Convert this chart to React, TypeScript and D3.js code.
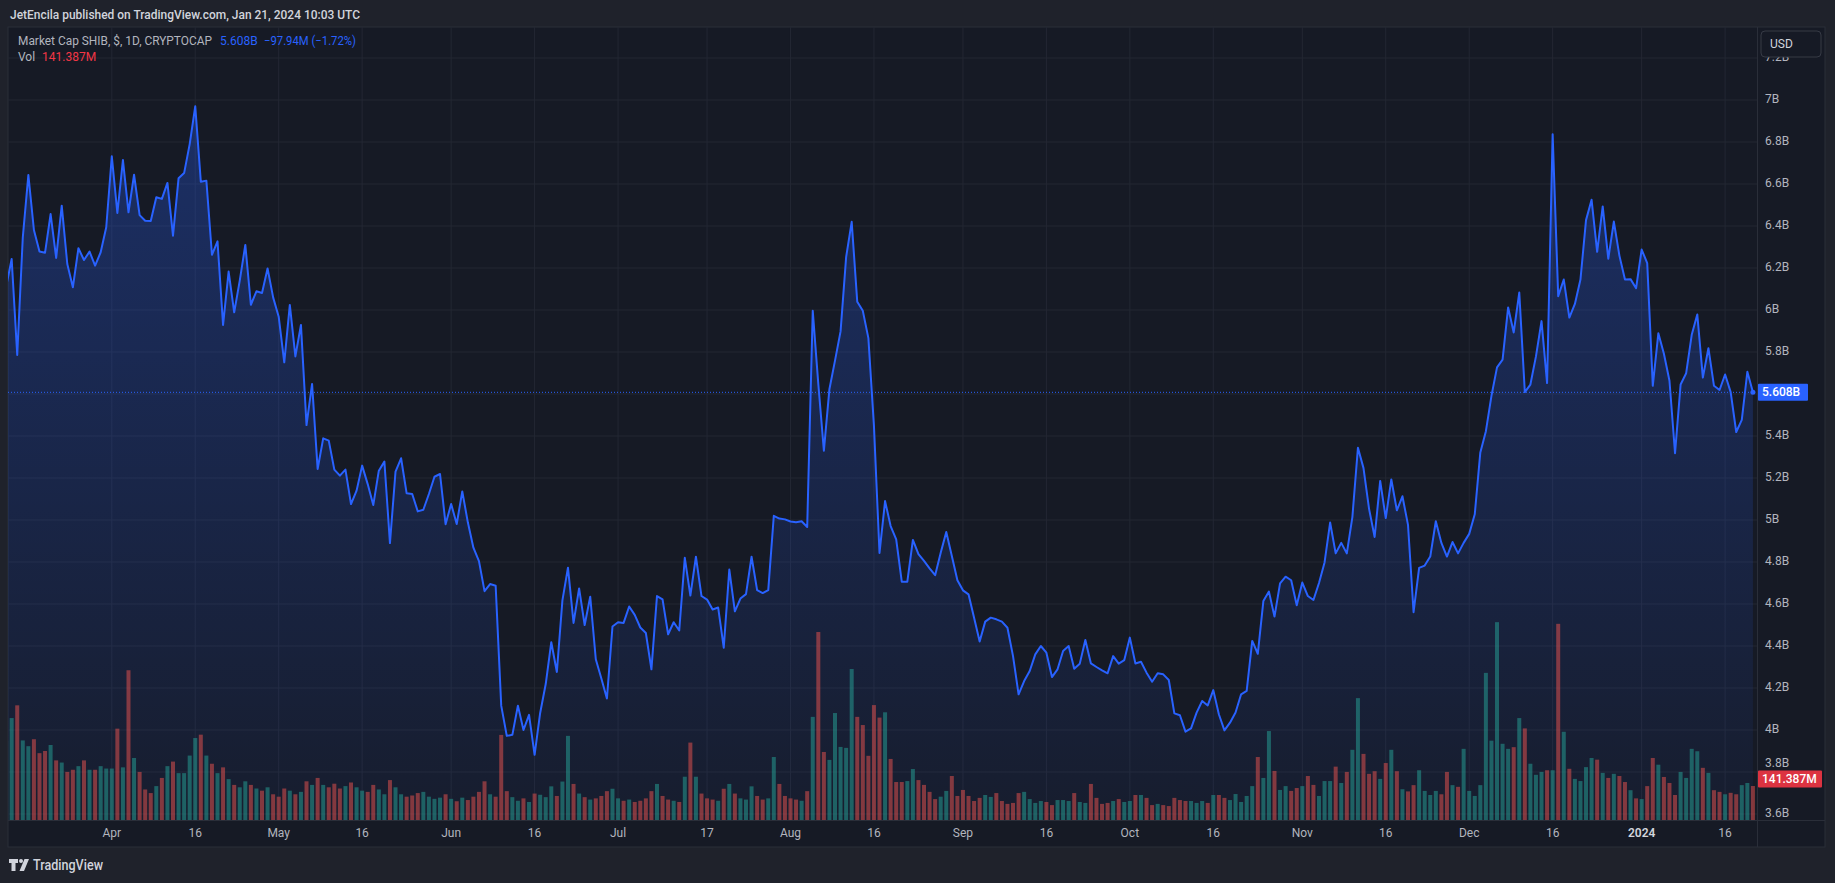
import React from 'react';
import { area, line, scaleLinear, scaleUtc } from 'd3';

// SHIB market cap, daily close in billions USD (Mar 13 2023 .. Jan 21 2024)
const capMar = [6.11, 6.243, 5.786, 6.346, 6.643, 6.381, 6.279, 6.273, 6.457, 6.248, 6.497, 6.219, 6.108, 6.294, 6.238, 6.278, 6.211, 6.275, 6.394];
const capApr = [6.732, 6.462, 6.714, 6.465, 6.644, 6.452, 6.425, 6.424, 6.537, 6.529, 6.605, 6.354, 6.627, 6.652, 6.79, 6.97, 6.611, 6.616, 6.263, 6.327, 5.929, 6.183, 5.989, 6.14, 6.31, 6.025, 6.089, 6.081, 6.198, 6.06];
const capMay = [5.968, 5.751, 6.024, 5.779, 5.929, 5.452, 5.648, 5.243, 5.389, 5.378, 5.24, 5.211, 5.24, 5.076, 5.14, 5.259, 5.171, 5.071, 5.235, 5.278, 4.89, 5.23, 5.294, 5.127, 5.124, 5.041, 5.049, 5.124, 5.206, 5.219, 4.98];
const capJun = [5.076, 4.981, 5.136, 4.989, 4.868, 4.804, 4.661, 4.695, 4.687, 4.116, 3.972, 3.977, 4.116, 4.0, 4.072, 3.882, 4.081, 4.219, 4.418, 4.276, 4.617, 4.773, 4.51, 4.674, 4.5, 4.635, 4.337, 4.245, 4.15, 4.493];
const capJul = [4.513, 4.51, 4.588, 4.548, 4.488, 4.462, 4.289, 4.638, 4.622, 4.456, 4.513, 4.474, 4.82, 4.64, 4.825, 4.638, 4.621, 4.574, 4.583, 4.392, 4.764, 4.565, 4.626, 4.647, 4.825, 4.666, 4.652, 4.666, 5.02, 5.007, 5.003];
const capAug = [4.993, 4.989, 4.994, 4.967, 5.996, 5.647, 5.33, 5.624, 5.759, 5.898, 6.252, 6.42, 6.039, 5.996, 5.866, 5.448, 4.843, 5.09, 4.971, 4.908, 4.706, 4.706, 4.905, 4.837, 4.805, 4.77, 4.737, 4.844, 4.943, 4.829, 4.713];
const capSep = [4.665, 4.646, 4.535, 4.421, 4.516, 4.535, 4.527, 4.516, 4.487, 4.352, 4.17, 4.233, 4.281, 4.36, 4.4, 4.368, 4.252, 4.289, 4.376, 4.4, 4.292, 4.316, 4.429, 4.317, 4.3, 4.284, 4.27, 4.352, 4.316, 4.333];
const capOct = [4.44, 4.317, 4.325, 4.273, 4.23, 4.27, 4.265, 4.238, 4.079, 4.07, 3.992, 4.008, 4.083, 4.138, 4.117, 4.19, 4.075, 3.998, 4.035, 4.083, 4.17, 4.186, 4.424, 4.363, 4.614, 4.659, 4.54, 4.698, 4.73, 4.713, 4.594];
const capNov = [4.702, 4.638, 4.619, 4.7, 4.798, 4.988, 4.841, 4.891, 4.841, 5.014, 5.344, 5.247, 5.053, 4.919, 5.186, 5.009, 5.193, 5.046, 5.113, 4.977, 4.561, 4.772, 4.783, 4.826, 4.994, 4.891, 4.826, 4.895, 4.841, 4.891];
const capDec = [4.934, 5.027, 5.322, 5.423, 5.591, 5.727, 5.764, 6.012, 5.893, 6.083, 5.609, 5.645, 5.779, 5.947, 5.652, 6.837, 6.066, 6.145, 5.964, 6.029, 6.145, 6.428, 6.525, 6.277, 6.493, 6.244, 6.421, 6.259, 6.145, 6.147, 6.104];
const capJan = [6.288, 6.223, 5.639, 5.889, 5.792, 5.663, 5.318, 5.645, 5.699, 5.882, 5.979, 5.678, 5.818, 5.639, 5.619, 5.693, 5.609, 5.419, 5.477, 5.706, 5.608];

// daily volume in millions USD, same days
const volMar = [330, 424, 477, 331, 307, 336, 278, 287, 312, 248, 239, 200, 209, 224, 248, 209, 209, 224, 214];
const volApr = [214, 380, 219, 623, 258, 200, 127, 112, 141, 175, 224, 243, 195, 195, 268, 341, 355, 268, 234, 195, 219, 170, 146, 136, 161, 146, 131, 122, 136, 107];
const volMay = [97, 131, 122, 107, 117, 161, 146, 175, 146, 136, 151, 131, 141, 156, 136, 122, 117, 146, 127, 107, 166, 136, 107, 97, 102, 112, 117, 97, 88, 93, 107];
const volJun = [88, 78, 93, 83, 97, 117, 161, 107, 97, 354, 120, 95, 80, 90, 75, 110, 105, 95, 140, 100, 160, 350, 150, 110, 95, 85, 90, 100, 120, 130];
const volJul = [90, 80, 85, 75, 80, 90, 120, 150, 100, 85, 80, 75, 180, 322, 180, 110, 90, 85, 80, 130, 150, 110, 90, 85, 140, 100, 85, 90, 262, 150, 100];
const volAug = [90, 85, 80, 120, 429, 782, 283, 250, 445, 304, 300, 628, 429, 395, 267, 478, 426, 448, 254, 158, 158, 162, 212, 166, 146, 117, 87, 97, 121, 183, 100];
const volSep = [125, 100, 79, 92, 104, 96, 112, 79, 67, 71, 112, 117, 87, 71, 79, 75, 62, 83, 83, 79, 112, 75, 71, 150, 92, 67, 71, 79, 87, 75];
const volOct = [79, 104, 104, 92, 62, 67, 62, 58, 92, 83, 79, 79, 71, 79, 71, 104, 104, 92, 83, 108, 75, 100, 141, 262, 175, 370, 204, 125, 141, 121, 133];
const volNov = [141, 183, 146, 100, 162, 162, 222, 154, 200, 292, 507, 275, 192, 203, 171, 237, 292, 203, 128, 119, 145, 207, 121, 104, 121, 107, 200, 145, 138, 296];
const volDec = [121, 100, 145, 612, 330, 823, 317, 296, 303, 424, 381, 234, 188, 200, 207, 207, 816, 367, 213, 171, 162, 220, 258, 251, 196, 175, 192, 183, 158, 124, 90];
const volJan = [87, 141, 258, 230, 179, 154, 104, 200, 175, 296, 286, 217, 196, 124, 117, 107, 113, 107, 145, 154, 141.387];

const priceTicks = [3.6, 3.8, 4, 4.2, 4.4, 4.6, 4.8, 5, 5.2, 5.4, 5.6, 5.8, 6, 6.2, 6.4, 6.6, 6.8, 7, 7.2];
const timeTickDates = ['2023-04-01', '2023-04-16', '2023-05-01', '2023-05-16', '2023-06-01', '2023-06-16', '2023-07-01', '2023-07-17', '2023-08-01', '2023-08-16', '2023-09-01', '2023-09-16', '2023-10-01', '2023-10-16', '2023-11-01', '2023-11-16', '2023-12-01', '2023-12-16', '2024-01-01', '2024-01-16'];
const timeTickLabels = ['Apr', '16', 'May', '16', 'Jun', '16', 'Jul', '17', 'Aug', '16', 'Sep', '16', 'Oct', '16', 'Nov', '16', 'Dec', '16', '2024', '16'];

const FONT = "Roboto, 'Noto Sans', sans-serif";
const BLUE = '#2962ff';
const RED = '#f23645';
const DAY = 86400000;
const START = Date.UTC(2023, 2, 13);

const W = 1835;
const H = 883;
const plot = { left: 8, top: 27, right: 1757, bottom: 820 };
const pane = { right: 1825, bottom: 847 };

interface Point {
  date: Date;
  cap: number;
  vol: number;
  up: boolean;
}

const caps = [...capMar, ...capApr, ...capMay, ...capJun, ...capJul, ...capAug, ...capSep, ...capOct, ...capNov, ...capDec, ...capJan];
const vols = [...volMar, ...volApr, ...volMay, ...volJun, ...volJul, ...volAug, ...volSep, ...volOct, ...volNov, ...volDec, ...volJan];

const data: Point[] = caps.map((cap, i) => ({
  date: new Date(START + i * DAY),
  cap,
  vol: vols[i],
  up: i === 0 ? true : cap >= caps[i - 1],
}));

const fmtB = (v: number) => (Number.isInteger(v) ? `${v}B` : `${v.toFixed(1)}B`);

function Logo() {
  return (
    <g fill="#d1d4dc">
      <path d="M9 859h9v4h-2.5v8h-4v-8H9z" />
      <circle cx="21" cy="861" r="2" />
      <path d="M24.5 859h4.5l-5 12h-4.5z" />
      <text x={33} y={866} fontFamily={FONT} fontSize={14} fontWeight={500} dominantBaseline="middle" textLength={70} lengthAdjust="spacingAndGlyphs">
        TradingView
      </text>
    </g>
  );
}

export default function App() {
  const x = scaleUtc()
    .domain([new Date(Date.UTC(2023, 3, 1)), new Date(Date.UTC(2024, 0, 16))])
    .range([111.8, 1725.1]);
  const y = scaleLinear().domain([3.6, 7.2]).range([814, 58]);
  const yVol = scaleLinear().domain([0, 1000]).range([plot.bottom, plot.bottom - 240.4]);

  const linePath = line<Point>()
    .x((d) => x(d.date))
    .y((d) => y(d.cap))(data) ?? '';
  const areaPath = area<Point>()
    .x((d) => x(d.date))
    .y0(plot.bottom)
    .y1((d) => y(d.cap))(data) ?? '';

  const last = data[data.length - 1];
  const lastY = y(last.cap);
  const lastVolY = yVol(last.vol) - 7;
  const barW = 4;

  // the last-value badge hides the tick label it sits on; the volume badge pushes its neighbour up
  const shownTicks = priceTicks
    .filter((t) => Math.abs(y(t) - lastY) > 12)
    .map((t) => {
      const ty = y(t);
      const nudged = ty < lastVolY && lastVolY - ty < 15 ? lastVolY - 15 : ty;
      return { t, ty: nudged };
    });

  return (
    <svg width={W} height={H} style={{ position: 'absolute', left: 0, top: 0 }} fontFamily={FONT}>
      <defs>
        <clipPath id="plot-clip">
          <rect x={plot.left} y={plot.top} width={plot.right - plot.left} height={plot.bottom - plot.top} />
        </clipPath>
        <linearGradient id="cap-fill" gradientUnits="userSpaceOnUse" x1={0} y1={100} x2={0} y2={plot.bottom}>
          <stop offset="0" stopColor={BLUE} stopOpacity={0.3} />
          <stop offset="1" stopColor={BLUE} stopOpacity={0.04} />
        </linearGradient>
      </defs>

      <rect width={W} height={H} fill="#1f222b" />
      <text x={10} y={15} fill="#d1d4dc" fontSize={13.5} fontWeight={500} dominantBaseline="middle" textLength={350} lengthAdjust="spacingAndGlyphs">
        JetEncila published on TradingView.com, Jan 21, 2024 10:03 UTC
      </text>

      <rect x={plot.left} y={plot.top} width={pane.right - plot.left} height={pane.bottom - plot.top} fill="#161a25" stroke="#2a2e39" />

      <g clipPath="url(#plot-clip)">
        {priceTicks.map((t) => (
          <line key={`h-${t}`} x1={plot.left} x2={plot.right} y1={y(t)} y2={y(t)} stroke="#232733" />
        ))}
        {timeTickDates.map((t) => {
          const px = x(new Date(t + 'T00:00:00Z'));
          return <line key={`v-${t}`} x1={px} x2={px} y1={plot.top} y2={plot.bottom} stroke="#232733" />;
        })}

        <path d={areaPath} fill="url(#cap-fill)" />

        {data.map((d) => (
          <rect
            key={`vol-${d.date.getTime()}`}
            x={x(d.date) - barW / 2}
            y={yVol(d.vol)}
            width={barW}
            height={plot.bottom - yVol(d.vol)}
            fill={d.up ? 'rgba(38,166,154,0.5)' : 'rgba(239,83,80,0.5)'}
          />
        ))}

        <line x1={plot.left} x2={plot.right} y1={lastY} y2={lastY} stroke={BLUE} strokeWidth={1} strokeDasharray="1 2" />
        <path d={linePath} fill="none" stroke={BLUE} strokeWidth={2} strokeLinejoin="round" />
        <circle cx={x(last.date)} cy={lastY} r={2.5} fill={BLUE} />
      </g>

      {/* axes borders */}
      <line x1={plot.right + 0.5} x2={plot.right + 0.5} y1={plot.top} y2={pane.bottom} stroke="#2a2e39" />
      <line x1={plot.left} x2={pane.right} y1={plot.bottom + 0.5} y2={plot.bottom + 0.5} stroke="#2a2e39" />

      {/* price axis */}
      {shownTicks.map(({ t, ty }) => (
        <text key={`pl-${t}`} x={1765} y={ty} fill="#b2b5be" fontSize={12} dominantBaseline="middle">
          {fmtB(t)}
        </text>
      ))}
      <rect x={1761} y={31} width={60} height={26} rx={4} fill="#161a25" stroke="#363a45" />
      <text x={1770} y={44.5} fill="#d1d4dc" fontSize={12} dominantBaseline="middle">
        USD
      </text>

      <rect x={plot.right + 1} y={lastY - 8.5} width={50} height={17} fill={BLUE} rx={1} />
      <text x={plot.right + 5} y={lastY + 0.5} fill="#ffffff" fontSize={12} fontWeight={500} dominantBaseline="middle">
        5.608B
      </text>
      <rect x={plot.right + 1} y={lastVolY - 8.5} width={64} height={17} fill={RED} opacity={0.9} rx={1} />
      <text x={plot.right + 5} y={lastVolY + 0.5} fill="#ffffff" fontSize={12} fontWeight={500} dominantBaseline="middle">
        141.387M
      </text>

      {/* time axis */}
      {timeTickDates.map((t, i) => (
        <text
          key={`tl-${t}`}
          x={x(new Date(t + 'T00:00:00Z'))}
          y={834}
          fill={timeTickLabels[i] === '2024' ? '#d1d4dc' : '#b2b5be'}
          fontSize={12}
          fontWeight={timeTickLabels[i] === '2024' ? 600 : 400}
          textAnchor="middle"
          dominantBaseline="middle"
        >
          {timeTickLabels[i]}
        </text>
      ))}

      {/* legend */}
      <text x={18} y={42} fill="#b2b5be" fontSize={12} dominantBaseline="middle" textLength={194} lengthAdjust="spacingAndGlyphs">
        Market Cap SHIB, $, 1D, CRYPTOCAP
      </text>
      <text x={220} y={42} fill={BLUE} fontSize={12} dominantBaseline="middle">
        5.608B
      </text>
      <text x={264} y={42} fill={BLUE} fontSize={12} dominantBaseline="middle" textLength={92} lengthAdjust="spacingAndGlyphs">
        −97.94M (−1.72%)
      </text>
      <text x={18} y={58} fill="#b2b5be" fontSize={12} dominantBaseline="middle">
        Vol
      </text>
      <text x={42} y={58} fill={RED} fontSize={12} dominantBaseline="middle">
        141.387M
      </text>

      <Logo />
    </svg>
  );
}
